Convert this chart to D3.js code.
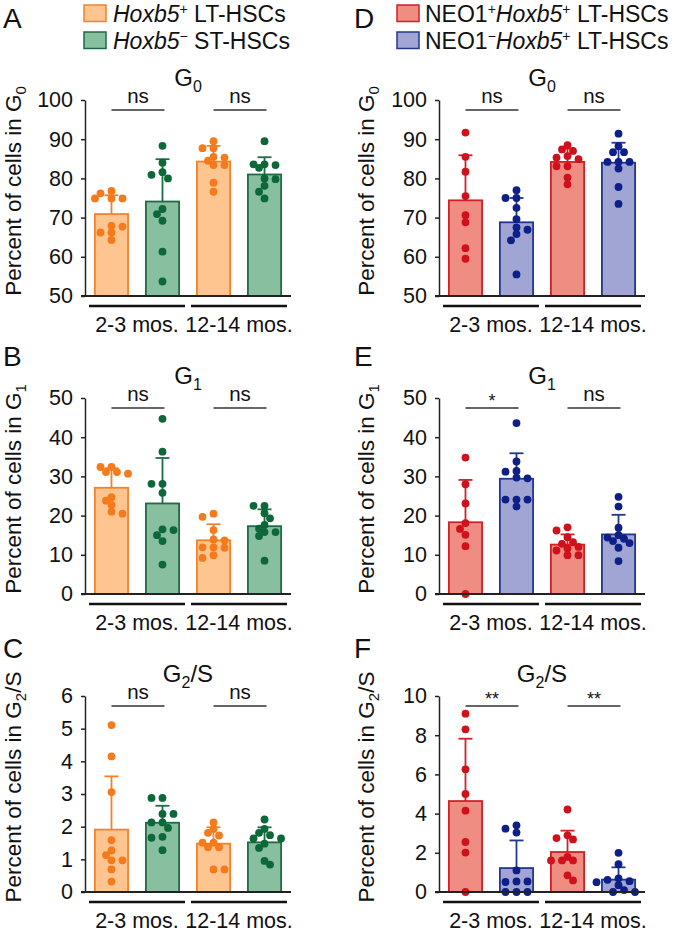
<!DOCTYPE html>
<html><head><meta charset="utf-8">
<script src="https://cdn.jsdelivr.net/npm/d3@7"></script>
<style>body{margin:0;background:#fff} svg{display:block}</style>
</head><body><svg id="chart" width="677" height="936"></svg>
<script>
// ---------------- DATA ----------------
const ageGroups = ["2-3 mos.", "12-14 mos."];
const barGroupIndex = [0, 0, 1, 1];
const barSeriesIndex = [0, 1, 0, 1];

// Panel A: G0, Hoxb5+ LT vs Hoxb5- ST
const meanA = [70.9, 74.1, 84.3, 81.0];
const sdA = [4.8, 10.8, 4.0, 4.4];
const dotsA = [
  [76.8, 76.2, 74.9, 74.9, 74.9, 67.9, 67.7, 66.2, 66.2, 64.3],
  [88.3, 84.0, 81.6, 80.9, 80.0, 72.2, 70.9, 69.2, 61.3, 53.7],
  [89.5, 87.7, 87.7, 85.3, 85.5, 83.4, 83.4, 84.5, 78.9, 76.6],
  [89.5, 83.6, 83.6, 82.7, 83.4, 80.0, 79.8, 78.1, 76.6, 74.9]
];
const sigA = ["ns", "ns"];

// Panel B: G1
const meanB = [27.1, 23.1, 13.7, 17.3];
const sdB = [5.0, 11.6, 4.1, 4.3];
const dotsB = [
  [32.4, 32.4, 31.1, 30.7, 31.1, 24.7, 23.8, 22.7, 21.0, 20.5],
  [44.7, 36.3, 28.1, 28.1, 25.8, 16.5, 16.3, 15.0, 13.5, 7.5],
  [19.7, 20.5, 16.3, 13.9, 13.7, 11.9, 11.8, 11.9, 9.2, 9.9],
  [22.5, 22.5, 20.6, 19.3, 17.6, 16.7, 15.8, 15.8, 14.8, 8.5]
];
const sigB = ["ns", "ns"];

// Panel C: G2/S
const meanC = [1.91, 2.12, 1.48, 1.52];
const sdC = [1.63, 0.52, 0.50, 0.46];
const dotsC = [
  [5.11, 4.15, 3.06, 1.59, 1.27, 1.13, 0.97, 0.97, 0.69, 0.32],
  [2.88, 2.88, 2.39, 2.39, 2.13, 2.13, 1.96, 1.69, 1.66, 1.28],
  [2.13, 1.93, 1.81, 1.73, 1.51, 1.51, 1.37, 1.37, 0.69, 0.69],
  [2.22, 1.93, 1.81, 1.74, 1.64, 1.64, 1.48, 1.35, 0.95, 0.84]
];
const sigC = ["ns", "ns"];

// Panel D: G0, NEO1+ vs NEO1- Hoxb5+ LT
const meanD = [74.4, 68.8, 84.2, 84.0];
const sdD = [11.5, 6.2, 3.4, 5.1];
const dotsD = [
  [91.7, 85.5, 81.7, 75.5, 70.6, 68.8, 62.2, 59.5],
  [77.0, 75.0, 75.0, 72.5, 69.6, 67.5, 66.9, 65.8, 64.2, 55.5],
  [88.5, 87.0, 87.4, 85.3, 85.7, 83.1, 83.1, 84.9, 80.2, 78.5],
  [91.4, 88.2, 86.7, 86.7, 84.2, 84.2, 84.2, 82.5, 77.8, 73.5]
];
const sigD = ["ns", "ns"];

// Panel E: G1
const meanE = [18.3, 29.4, 12.6, 15.2];
const sdE = [10.8, 6.5, 2.6, 5.0];
const dotsE = [
  [34.8, 28.0, 23.1, 18.1, 16.6, 15.1, 12.2, 0],
  [43.6, 33.8, 31.4, 31.2, 29.7, 29.5, 24.1, 24.1, 24.1, 22.3],
  [16.2, 17.0, 13.2, 14.5, 12.0, 12.8, 11.1, 11.6, 9.9, 9.9],
  [24.8, 22.3, 16.9, 15.0, 14.4, 14.1, 13.5, 13.0, 11.8, 8.4]
];
const sigE = ["*", "ns"];

// Panel F: G2/S
const meanF = [4.64, 1.22, 2.04, 0.63];
const sdF = [3.18, 1.41, 1.09, 0.63];
const dotsF = [
  [9.10, 8.30, 6.26, 5.00, 4.15, 2.55, 2.01, 0],
  [3.40, 3.23, 3.03, 1.10, 0.54, 0.54, 0.51, 0, 0, 0],
  [4.21, 2.89, 2.75, 2.68, 1.79, 1.61, 1.61, 1.61, 0.85, 0.59],
  [2.0, 1.42, 0.7, 0.62, 0.55, 0.5, 0.35, 0.1, 0, 0]
];
const sigF = ["**", "**"];

const ticksG0 = [50, 60, 70, 80, 90, 100];
const ticksG1 = [0, 10, 20, 30, 40, 50];
const ticksC = [0, 1, 2, 3, 4, 5, 6];
const ticksF = [0, 2, 4, 6, 8, 10];

// ---------------- STYLE / LAYOUT ----------------
const FONT = '"Liberation Sans", Arial, Helvetica, sans-serif';
const colAxisX = [85, 439];
const colLetterX = [3, 354];
const colYLabelX = [21, 374];
const rowTop = [100, 398, 696];
const rowLetterY = [28, 366, 658];
const plotH = 196;
const plotW = 206;

const palettes = [
  [ {fill: "#FFC590", stroke: "#F5822A", dot: "#F47A1C"},
    {fill: "#87BF9F", stroke: "#1E6C45", dot: "#0C6838"} ],
  [ {fill: "#F08D82", stroke: "#D0202A", dot: "#CF111B"},
    {fill: "#A0A5D3", stroke: "#22378E", dot: "#0E1F88"} ]
];

const svg = d3.select("#chart");

const panels = [
  {letter: "A", col: 0, row: 0, sub: "0", tail: "", ticks: ticksG0, mean: meanA, sd: sdA, dots: dotsA, sig: sigA},
  {letter: "B", col: 0, row: 1, sub: "1", tail: "", ticks: ticksG1, mean: meanB, sd: sdB, dots: dotsB, sig: sigB},
  {letter: "C", col: 0, row: 2, sub: "2", tail: "/S", ticks: ticksC, mean: meanC, sd: sdC, dots: dotsC, sig: sigC},
  {letter: "D", col: 1, row: 0, sub: "0", tail: "", ticks: ticksG0, mean: meanD, sd: sdD, dots: dotsD, sig: sigD},
  {letter: "E", col: 1, row: 1, sub: "1", tail: "", ticks: ticksG1, mean: meanE, sd: sdE, dots: dotsE, sig: sigE},
  {letter: "F", col: 1, row: 2, sub: "2", tail: "/S", ticks: ticksF, mean: meanF, sd: sdF, dots: dotsF, sig: sigF}
];

function swarm(vals, y, cx) {
  const order = vals.map((v, i) => ({v, i})).sort((a, b) => b.v - a.v);
  const placed = [];
  const step = 5.5, minD = 6.5;
  order.forEach(d => {
    const py = y(d.v);
    let best = null;
    for (let k = 0; k < 14 && best === null; k++) {
      let cands = k === 0 ? [0] : [-k * step, k * step];
      if (k > 0) {
        const l = placed.filter(q => q.x < cx).length, r = placed.filter(q => q.x > cx).length;
        if (l > r) cands = [k * step, -k * step];
      }
      for (const off of cands) {
        if (placed.every(q => Math.hypot(q.x - (cx + off), q.y - py) >= minD)) { best = off; break; }
      }
    }
    placed.push({x: cx + (best || 0), y: py});
  });
  return placed;
}

function drawPanel(p) {
  const ax = colAxisX[p.col], top = rowTop[p.row], bottom = top + plotH;
  const pal = palettes[p.col];
  const x = d3.scaleBand().domain(d3.range(4)).range([ax, ax + plotW])
    .paddingInner(0.314).paddingOuter(0.176);
  const y = d3.scaleLinear().domain(d3.extent(p.ticks)).range([bottom, top]);
  const bw = x.bandwidth();
  const g = svg.append("g");

  // panel letter
  g.append("text").attr("x", colLetterX[p.col]).attr("y", rowLetterY[p.row])
    .attr("font-family", FONT).attr("font-size", 28).attr("fill", "#111").text(p.letter);

  // title
  const t = g.append("text").attr("x", ax + 103).attr("y", top - 14)
    .attr("text-anchor", "middle").attr("font-family", FONT).attr("font-size", 24).attr("fill", "#111");
  t.append("tspan").text("G");
  t.append("tspan").attr("font-size", 16).attr("dy", 6).text(p.sub);
  if (p.tail) t.append("tspan").attr("dy", -6).text(p.tail);

  // y label
  const yl = g.append("text")
    .attr("transform", `translate(${colYLabelX[p.col]},${top + 91}) rotate(-90)`)
    .attr("text-anchor", "middle").attr("font-family", FONT).attr("font-size", 22.5).attr("fill", "#111");
  yl.append("tspan").text("Percent of cells in G");
  yl.append("tspan").attr("font-size", 15).attr("dy", 5).text(p.sub);
  if (p.tail) yl.append("tspan").attr("dy", -5).text(p.tail);

  // y axis
  const ga = g.append("g").attr("transform", `translate(${ax},0)`)
    .call(d3.axisLeft(y).tickValues(p.ticks).tickFormat(d3.format("d"))
      .tickSize(4).tickPadding(8).tickSizeOuter(0));
  ga.attr("font-family", FONT).attr("font-size", 21.5);
  ga.select(".domain").attr("stroke", "#222").attr("stroke-width", 1.5);
  ga.selectAll(".tick line").attr("stroke", "#222").attr("stroke-width", 1.5);
  ga.selectAll(".tick text").attr("fill", "#111");

  // error bars (upper only)
  p.mean.forEach((m, i) => {
    const c = pal[barSeriesIndex[i]];
    const cx = x(i) + bw / 2;
    g.append("line").attr("x1", cx).attr("x2", cx).attr("y1", y(m)).attr("y2", y(m + p.sd[i]))
      .attr("stroke", c.stroke).attr("stroke-width", 1.8);
    g.append("line").attr("x1", cx - 7).attr("x2", cx + 7).attr("y1", y(m + p.sd[i])).attr("y2", y(m + p.sd[i]))
      .attr("stroke", c.stroke).attr("stroke-width", 1.8);
  });

  // bars
  g.selectAll("rect.bar").data(p.mean).join("rect").attr("class", "bar")
    .attr("x", (d, i) => x(i) + 0.9).attr("width", bw - 1.8)
    .attr("y", d => y(d)).attr("height", d => bottom - y(d))
    .attr("fill", (d, i) => pal[barSeriesIndex[i]].fill)
    .attr("stroke", (d, i) => pal[barSeriesIndex[i]].stroke).attr("stroke-width", 1.8);

  // dots
  p.dots.forEach((vals, i) => {
    const pts = swarm(vals, y, x(i) + bw / 2);
    g.selectAll(null).data(pts).join("circle")
      .attr("cx", d => d.x).attr("cy", d => d.y).attr("r", 3.9)
      .attr("fill", pal[barSeriesIndex[i]].dot);
  });

  // x baseline
  g.append("line").attr("x1", ax - 4).attr("x2", ax + plotW).attr("y1", bottom).attr("y2", bottom)
    .attr("stroke", "#222").attr("stroke-width", 2);

  // group lines & labels
  ageGroups.forEach((lab, gi) => {
    const idx = d3.range(4).filter(i => barGroupIndex[i] === gi);
    const x1 = x(idx[0]) - 5, x2 = x(idx[idx.length - 1]) + bw + 5;
    g.append("line").attr("x1", x1).attr("x2", x2).attr("y1", bottom + 10).attr("y2", bottom + 10)
      .attr("stroke", "#111").attr("stroke-width", 2.6);
    g.append("text").attr("x", (x1 + x2) / 2).attr("y", bottom + 36).attr("text-anchor", "middle")
      .attr("font-family", FONT).attr("font-size", 21.5).attr("fill", "#111").text(lab);

    // significance
    const c1 = x(idx[0]) + bw / 2, c2 = x(idx[1]) + bw / 2 + 2;
    const ly = top + 10;
    g.append("line").attr("x1", c1).attr("x2", c2).attr("y1", ly).attr("y2", ly)
      .attr("stroke", "#333").attr("stroke-width", 1.6);
    const isStar = p.sig[gi].includes("*");
    g.append("text").attr("x", (c1 + c2) / 2).attr("y", isStar ? ly - 1 : ly - 7).attr("text-anchor", "middle")
      .attr("font-family", FONT).attr("font-size", isStar ? 18 : 20.5).attr("fill", "#111").text(p.sig[gi]);
  });
}

panels.forEach(drawPanel);

// ---------------- LEGENDS ----------------
const legendX = [84, 397], legendTextX = [113, 425];
const legendRows = [5, 32];
const legendLabels = [
  [ [{t: "Hoxb5", i: true}, {t: "+", s: true}, {t: " LT-HSCs"}],
    [{t: "Hoxb5", i: true}, {t: "\u2212", s: true}, {t: " ST-HSCs"}] ],
  [ [{t: "NEO1"}, {t: "+", s: true}, {t: "Hoxb5", i: true}, {t: "+", s: true}, {t: " LT-HSCs"}],
    [{t: "NEO1"}, {t: "\u2212", s: true}, {t: "Hoxb5", i: true}, {t: "+", s: true}, {t: " LT-HSCs"}] ]
];
legendLabels.forEach((rows, col) => {
  rows.forEach((parts, r) => {
    const c = palettes[col][r];
    svg.append("rect").attr("x", legendX[col]).attr("y", legendRows[r]).attr("width", 22).attr("height", 16.5)
      .attr("fill", c.fill).attr("stroke", c.stroke).attr("stroke-width", 1.5);
    const tx = svg.append("text").attr("x", legendTextX[col]).attr("y", legendRows[r] + 17)
      .attr("font-family", FONT).attr("font-size", 23).attr("fill", "#111");
    let shifted = false;
    parts.forEach(pt => {
      const ts = tx.append("tspan").text(pt.t);
      if (pt.i) ts.attr("font-style", "italic");
      if (pt.s) { ts.attr("font-size", 14).attr("dy", shifted ? 0 : -8); shifted = true; }
      else if (shifted) { ts.attr("dy", 8); shifted = false; }
    });
  });
});
</script>
</body></html>
